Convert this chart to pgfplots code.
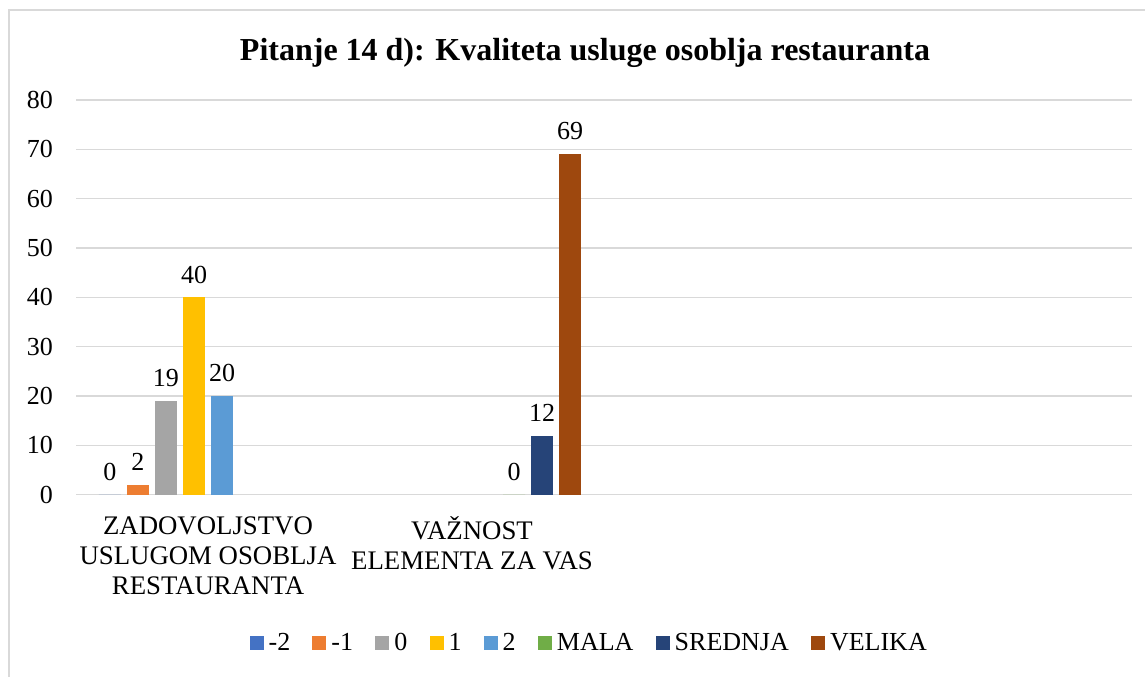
\documentclass[border=0pt]{standalone}
\usepackage{fontspec}
\setmainfont{Liberation Serif}
\usepackage{pgfplots}
\pgfplotsset{compat=1.18}

\definecolor{gridgray}{HTML}{D9D9D9}
\definecolor{cmtwo}{HTML}{4472C4}
\definecolor{cmone}{HTML}{ED7D31}
\definecolor{czero}{HTML}{A5A5A5}
\definecolor{cone}{HTML}{FFC000}
\definecolor{ctwo}{HTML}{5B9BD5}
\definecolor{cmala}{HTML}{70AD47}
\definecolor{csred}{HTML}{264478}
\definecolor{cvel}{HTML}{9E480E}

\begin{document}
\begin{tikzpicture}
\useasboundingbox (0,0) rectangle (572.5pt,338pt);
\draw[gridgray, line width=0.75pt] (4.5pt,-20pt) rectangle (600pt,333pt);
\begin{axis}[
    at={(38pt,90.65pt)}, anchor=south west,
    scale only axis, width=528pt, height=197.35pt,
    ybar=3pt, bar width=11pt,
    xmin=-0.5, xmax=3.5, ymin=0, ymax=80,
    ytick={0,10,...,80},
    xtick={0,1},
    xticklabels={{ZADOVOLJSTVO\\USLUGOM OSOBLJA\\RESTAURANTA},{VAŽNOST\\ELEMENTA ZA VAS}},
    axis line style={draw=none},
    major tick length=0pt,
    ymajorgrids, grid style={gridgray, line width=0.6pt},
    /pgf/number format/assume math mode=true,
    yticklabel style={font=\fontsize{13}{15}\selectfont, xshift=-8pt},
    xticklabel style={font=\fontsize{13.4}{15}\selectfont, align=center, anchor=north, yshift=-7.5pt},
    nodes near coords,
    every node near coord/.append style={font=\fontsize{13}{15}\selectfont, yshift=3.5pt},
    title={Pitanje 14 d): Kvaliteta usluge osoblja restauranta},
    title style={font=\fontsize{16}{19}\bfseries, at={(0.482,1.07)}, anchor=base},
    legend columns=8,
    legend style={draw=none, at={(0.486,-0.3757)}, anchor=center,
        font=\fontsize{13}{15}\selectfont,
        nodes={inner xsep=1pt, inner ysep=1pt},
        /tikz/every odd column/.append style={column sep=1.5pt},
        /tikz/every even column/.append style={column sep=10.1pt}},
    legend image code/.code={\path[#1] (0pt,-3.5pt) rectangle (7pt,3.5pt);},
]
\addplot[fill=cmtwo, draw=none] coordinates {(0,0)};
\addplot[fill=cmone, draw=none] coordinates {(0,2)};
\addplot[fill=czero, draw=none] coordinates {(0,19)};
\addplot[fill=cone, draw=none] coordinates {(0,40)};
\addplot[fill=ctwo, draw=none] coordinates {(0,20)};
\addplot[fill=cmala, draw=none] coordinates {(1,0)};
\addplot[fill=csred, draw=none] coordinates {(1,12)};
\addplot[fill=cvel, draw=none] coordinates {(1,69)};
\legend{-2,-1,0,1,2,MALA,SREDNJA,VELIKA}
\end{axis}
\end{tikzpicture}
\end{document}
